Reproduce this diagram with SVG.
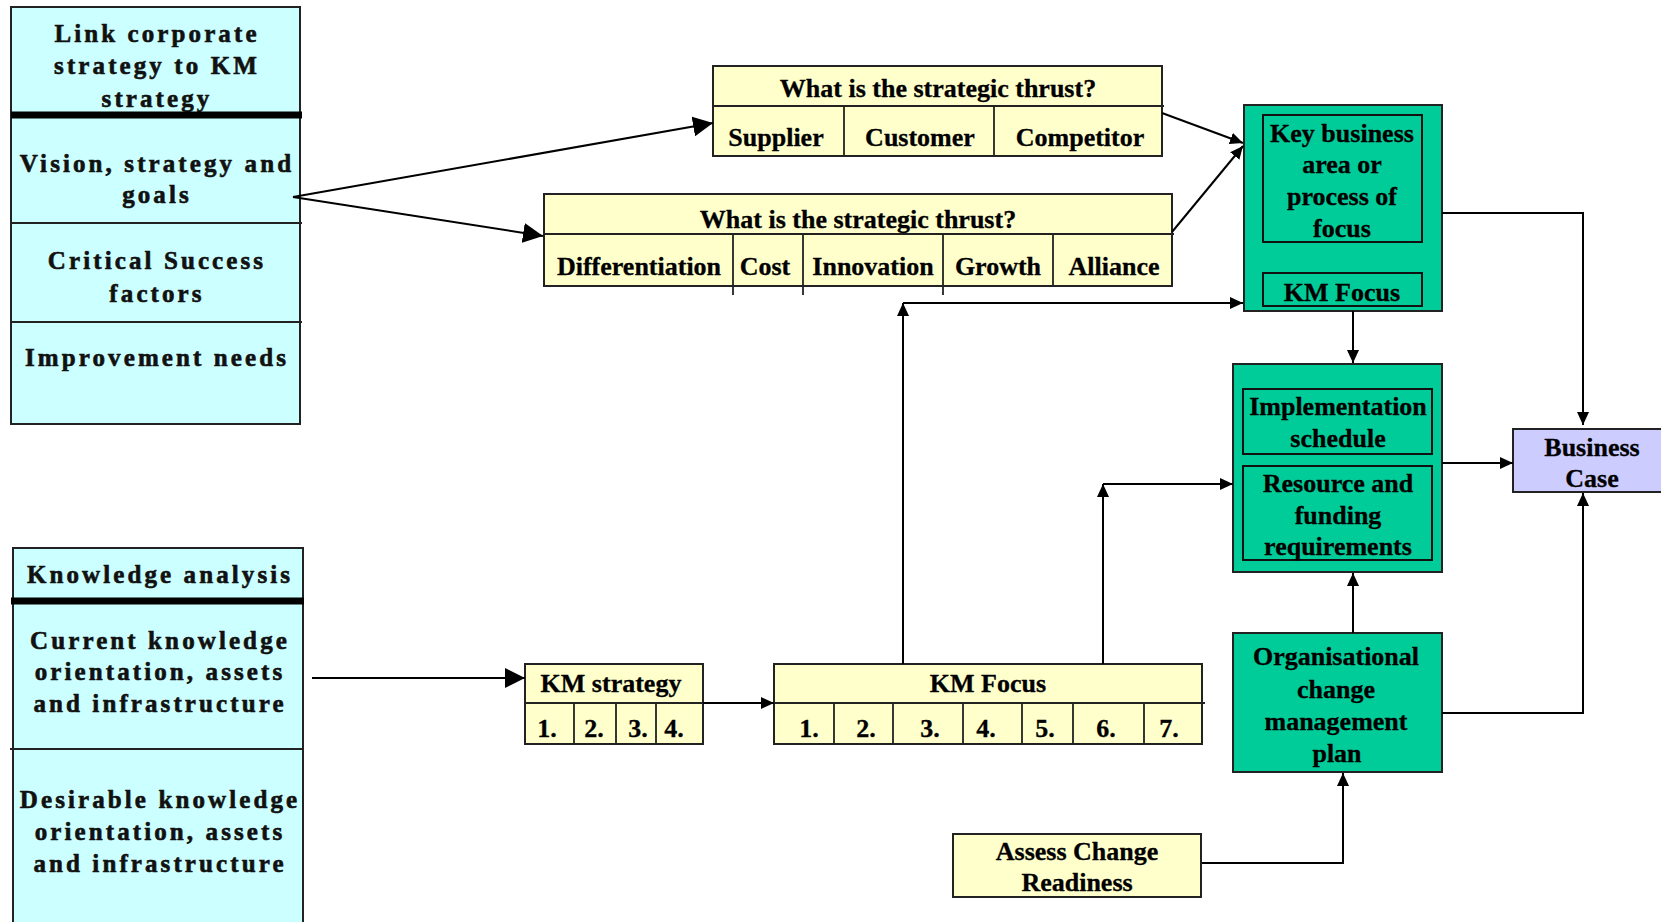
<svg xmlns="http://www.w3.org/2000/svg" width="1661" height="922" viewBox="0 0 1661 922">
<defs>
<style>
.bg{fill:#ffffff}
.cyan{fill:#ccffff;stroke:#222;stroke-width:2}
.yel{fill:#ffffcc;stroke:#222;stroke-width:2}
.grn{fill:#00cc99;stroke:#222;stroke-width:2}
.lav{fill:#ccccff;stroke:#222;stroke-width:2}
.inner{fill:none;stroke:#111;stroke-width:2}
.sep{stroke:#222;stroke-width:1.8;fill:none}
.thick{stroke:#000;stroke-width:7;fill:none}
.lt{font-family:"Liberation Serif","Times New Roman",serif;font-weight:bold;font-size:25px;letter-spacing:3.1px;fill:#111;stroke:#111;stroke-width:0.6;text-anchor:middle}
.t{font-family:"Liberation Serif","Times New Roman",serif;font-weight:bold;font-size:26px;fill:#000;stroke:#000;stroke-width:0.3;text-anchor:middle}
.c{stroke:#000;stroke-width:2;fill:none}
</style>
<marker id="big" markerWidth="20" markerHeight="20" refX="20" refY="10" orient="auto" markerUnits="userSpaceOnUse"><path d="M0,0 L20,10 L0,20 z" fill="#000"/></marker>
<marker id="sm" markerWidth="13" markerHeight="12" refX="13" refY="6" orient="auto" markerUnits="userSpaceOnUse"><path d="M0,0 L13,6 L0,12 z" fill="#000"/></marker>
</defs>
<rect class="bg" x="0" y="0" width="1661" height="922"/>

<g id="link-corporate">
<rect class="cyan" x="11" y="7" width="289" height="417"/>
<text class="lt" x="157" y="42">Link corporate</text>
<text class="lt" x="157" y="74">strategy to KM</text>
<text class="lt" x="157" y="107">strategy</text>
<line class="thick" x1="11" y1="115" x2="302" y2="115"/>
<text class="lt" x="157" y="172">Vision, strategy and</text>
<text class="lt" x="157" y="203">goals</text>
<line class="sep" x1="11" y1="223" x2="302" y2="223"/>
<text class="lt" x="157" y="269">Critical Success</text>
<text class="lt" x="157" y="302">factors</text>
<line class="sep" x1="11" y1="322" x2="302" y2="322"/>
<text class="lt" x="157" y="366">Improvement needs</text>
</g>

<g id="knowledge-analysis">
<rect class="cyan" x="13" y="548" width="290" height="390"/>
<text class="lt" x="160" y="583">Knowledge analysis</text>
<line class="thick" x1="11" y1="601" x2="304" y2="601"/>
<text class="lt" x="160" y="649">Current knowledge</text>
<text class="lt" x="160" y="680">orientation, assets</text>
<text class="lt" x="160" y="712">and infrastructure</text>
<line class="sep" x1="10" y1="749" x2="303" y2="749"/>
<text class="lt" x="160" y="808">Desirable knowledge</text>
<text class="lt" x="160" y="840">orientation, assets</text>
<text class="lt" x="160" y="872">and infrastructure</text>
</g>

<g id="thrust-top">
<rect class="yel" x="713" y="66" width="449" height="90"/>
<line class="sep" x1="713" y1="106" x2="1164" y2="106"/>
<line class="sep" x1="844" y1="106" x2="844" y2="156"/>
<line class="sep" x1="994" y1="106" x2="994" y2="156"/>
<text class="t" x="938" y="97">What is the strategic thrust?</text>
<text class="t" x="776" y="146">Supplier</text>
<text class="t" x="920" y="146">Customer</text>
<text class="t" x="1080" y="146">Competitor</text>
</g>

<g id="thrust-bottom">
<rect class="yel" x="544" y="194" width="628" height="92"/>
<line class="sep" x1="544" y1="234" x2="1174" y2="234"/>
<line class="sep" x1="733" y1="234" x2="733" y2="295"/>
<line class="sep" x1="803" y1="234" x2="803" y2="295"/>
<line class="sep" x1="943" y1="234" x2="943" y2="295"/>
<line class="sep" x1="1053" y1="234" x2="1053" y2="286"/>
<text class="t" x="858" y="228">What is the strategic thrust?</text>
<text class="t" x="639" y="275">Differentiation</text>
<text class="t" x="765" y="275">Cost</text>
<text class="t" x="873" y="275">Innovation</text>
<text class="t" x="998" y="275">Growth</text>
<text class="t" x="1114" y="275">Alliance</text>
</g>

<g id="key-business">
<rect class="grn" x="1244" y="105" width="198" height="206"/>
<rect class="inner" x="1263" y="115" width="159" height="127"/>
<text class="t" x="1342" y="142">Key business</text>
<text class="t" x="1342" y="173">area or</text>
<text class="t" x="1342" y="205">process of</text>
<text class="t" x="1342" y="237">focus</text>
<rect class="inner" x="1263" y="273" width="159" height="33"/>
<text class="t" x="1342" y="301">KM Focus</text>
</g>

<g id="implementation">
<rect class="grn" x="1233" y="364" width="209" height="208"/>
<rect class="inner" x="1243" y="389" width="189" height="65"/>
<text class="t" x="1338" y="415">Implementation</text>
<text class="t" x="1338" y="447">schedule</text>
<rect class="inner" x="1243" y="466" width="189" height="94"/>
<text class="t" x="1338" y="492">Resource and</text>
<text class="t" x="1338" y="524">funding</text>
<text class="t" x="1338" y="555">requirements</text>
</g>

<g id="business-case">
<rect class="lav" x="1513" y="429" width="160" height="63"/>
<text class="t" x="1592" y="456">Business</text>
<text class="t" x="1592" y="487">Case</text>
</g>

<g id="org-change">
<rect class="grn" x="1233" y="633" width="209" height="139"/>
<text class="t" x="1336" y="665">Organisational</text>
<text class="t" x="1336" y="698">change</text>
<text class="t" x="1336" y="730">management</text>
<text class="t" x="1337" y="762">plan</text>
</g>

<g id="assess-change">
<rect class="yel" x="953" y="834" width="248" height="63"/>
<text class="t" x="1077" y="860">Assess Change</text>
<text class="t" x="1077" y="891">Readiness</text>
</g>

<g id="km-strategy">
<rect class="yel" x="525" y="664" width="178" height="80"/>
<line class="sep" x1="525" y1="703" x2="703" y2="703"/>
<line class="sep" x1="574" y1="703" x2="574" y2="744"/>
<line class="sep" x1="616" y1="703" x2="616" y2="744"/>
<line class="sep" x1="656" y1="703" x2="656" y2="744"/>
<text class="t" x="611" y="692">KM strategy</text>
<text class="t" x="547" y="737">1.</text>
<text class="t" x="594" y="737">2.</text>
<text class="t" x="638" y="737">3.</text>
<text class="t" x="674" y="737">4.</text>
</g>

<g id="km-focus">
<rect class="yel" x="774" y="664" width="428" height="80"/>
<line class="sep" x1="774" y1="703" x2="1205" y2="703"/>
<line class="sep" x1="834" y1="703" x2="834" y2="744"/>
<line class="sep" x1="893" y1="703" x2="893" y2="744"/>
<line class="sep" x1="963" y1="703" x2="963" y2="744"/>
<line class="sep" x1="1022" y1="703" x2="1022" y2="744"/>
<line class="sep" x1="1073" y1="703" x2="1073" y2="744"/>
<line class="sep" x1="1144" y1="703" x2="1144" y2="744"/>
<text class="t" x="988" y="692">KM Focus</text>
<text class="t" x="809" y="737">1.</text>
<text class="t" x="866" y="737">2.</text>
<text class="t" x="930" y="737">3.</text>
<text class="t" x="986" y="737">4.</text>
<text class="t" x="1045" y="737">5.</text>
<text class="t" x="1106" y="737">6.</text>
<text class="t" x="1169" y="737">7.</text>
</g>

<g id="connectors">
<line class="c" x1="293" y1="197" x2="713" y2="123" marker-end="url(#big)"/>
<line class="c" x1="293" y1="197" x2="543" y2="236" marker-end="url(#big)"/>
<line class="c" x1="312" y1="678" x2="525" y2="678" marker-end="url(#big)"/>
<line class="c" x1="1162" y1="113" x2="1243" y2="143" marker-end="url(#sm)"/>
<line class="c" x1="1172" y1="232" x2="1243" y2="146" marker-end="url(#sm)"/>
<line class="c" x1="703" y1="703" x2="774" y2="703" marker-end="url(#sm)"/>
<line class="c" x1="903" y1="664" x2="903" y2="303" marker-end="url(#sm)"/>
<line class="c" x1="903" y1="303" x2="1243" y2="303" marker-end="url(#sm)"/>
<line class="c" x1="1103" y1="664" x2="1103" y2="484" marker-end="url(#sm)"/>
<line class="c" x1="1103" y1="484" x2="1233" y2="484" marker-end="url(#sm)"/>
<line class="c" x1="1353" y1="311" x2="1353" y2="363" marker-end="url(#sm)"/>
<path class="c" d="M1442,213 H1583 V425" marker-end="url(#sm)"/>
<line class="c" x1="1442" y1="463" x2="1513" y2="463" marker-end="url(#sm)"/>
<path class="c" d="M1442,713 H1583 V493" marker-end="url(#sm)"/>
<line class="c" x1="1353" y1="633" x2="1353" y2="573" marker-end="url(#sm)"/>
<path class="c" d="M1202,863 H1343 V773" marker-end="url(#sm)"/>
</g>
</svg>
